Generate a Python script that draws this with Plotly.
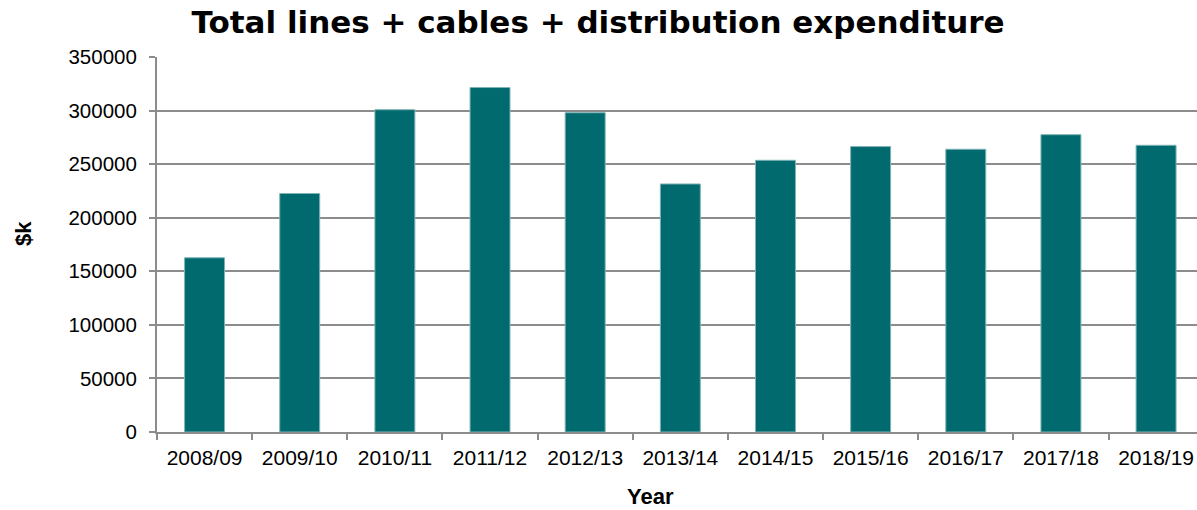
import plotly.graph_objects as go

# Annual expenditure on lines, cables and distribution ($k)
years = ["2008/09", "2009/10", "2010/11", "2011/12", "2012/13", "2013/14",
         "2014/15", "2015/16", "2016/17", "2017/18", "2018/19"]
expenditure = [162600, 222600, 300800, 321500, 298000, 231500,
               253600, 266400, 263900, 277500, 267600]
y_ticks = [0, 50000, 100000, 150000, 200000, 250000, 300000, 350000]

BAR = "#006A6E"
GRID = "#8C8C8C"
FONT = "Liberation Sans, Arial, sans-serif"
TITLE_FONT = "DejaVu Sans, Liberation Sans, sans-serif"

fig = go.Figure(
    go.Bar(
        x=years,
        y=expenditure,
        marker=dict(color=BAR, line=dict(color="#7FB3B5", width=1)),
        width=0.42,
    )
)

fig.update_layout(
    width=1197,
    height=510,
    margin=dict(l=157, r=0, t=57, b=78),
    paper_bgcolor="white",
    plot_bgcolor="white",
    showlegend=False,
    font=dict(family=FONT, color="black"),
    title=dict(
        text="<b>Total lines + cables + distribution expenditure</b>",
        x=598 / 1197, xref="container", xanchor="center",
        y=1 - 22 / 510, yref="container", yanchor="middle",
        font=dict(size=31, family=TITLE_FONT, color="black"),
    ),
    annotations=[
        dict(text="<b>Year</b>", xref="paper", yref="paper",
             x=(650 - 157) / 1040, y=-(510 - 432) / 375,
             xanchor="center", yanchor="bottom", showarrow=False,
             borderpad=0,
             font=dict(size=22, family=FONT, color="black")),
        dict(text="<b>$k</b>", xref="paper", yref="paper",
             x=-(157 - 23) / 1040, y=(432 - 234) / 375,
             xanchor="center", yanchor="middle", showarrow=False,
             textangle=-90,
             font=dict(size=22, family=FONT, color="black")),
    ],
)

fig.update_xaxes(
    type="category",
    range=[-0.5, 10.43],
    tickson="boundaries",
    ticks="outside",
    ticklen=6,
    tickwidth=1.5,
    tickcolor=GRID,
    showline=True,
    linecolor=GRID,
    linewidth=2,
    showgrid=False,
    tickfont=dict(size=21, family=FONT, color="black"),
    ticklabelstandoff=6,
)

fig.update_yaxes(
    range=[0, 350000],
    tickvals=y_ticks,
    ticktext=[str(v) for v in y_ticks],
    ticks="outside",
    ticklen=6,
    tickwidth=1.5,
    tickcolor=GRID,
    showline=True,
    linecolor=GRID,
    linewidth=2,
    showgrid=True,
    gridcolor=GRID,
    gridwidth=2,
    zeroline=False,
    tickfont=dict(size=20.5, family=FONT, color="black"),
    ticklabelstandoff=8,
)

fig.write_html("out.html")
